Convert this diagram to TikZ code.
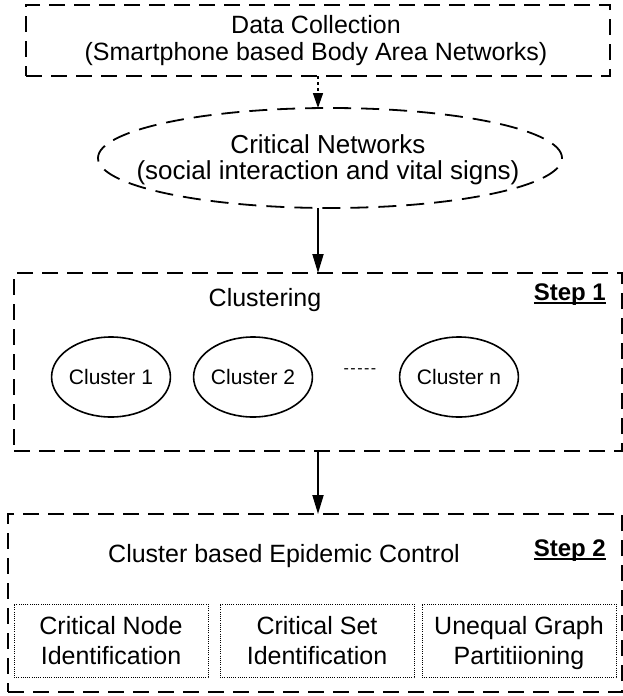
\documentclass[tikz,border=0pt]{standalone}
\usepackage{fontspec}
\setmainfont{Liberation Sans}
\usetikzlibrary{arrows.meta,shapes.geometric}
\newcommand\myul[1]{\setbox0\hbox{#1}\leavevmode\rlap{\rule[-3.6pt]{\wd0}{1.8pt}}\box0}
\begin{document}
\begin{tikzpicture}[x=1pt,y=-1pt,
  dbox/.style={draw, line width=1.8pt, dash pattern=on 16pt off 9pt, rectangle, inner sep=0pt, outer sep=0pt},
  dell/.style={draw, ellipse, line width=1.8pt, dash pattern=on 18pt off 10pt, inner sep=0pt, outer sep=0pt},
  dotbox/.style={draw, line width=0.9pt, dash pattern=on 1pt off 1.2pt, rectangle, inner sep=0pt, outer sep=0pt, minimum width=194pt, minimum height=73pt},
  txt/.style={font=\fontsize{25}{28}\selectfont, inner sep=0pt, anchor=base},
  etxt/.style={font=\fontsize{26}{30}\selectfont, inner sep=0pt, anchor=base},
  steplbl/.style={font=\fontsize{24}{28}\selectfont\bfseries, inner sep=0pt, anchor=base east},
  clu/.style={draw, ellipse, line width=1.6pt, minimum width=114pt, minimum height=80pt, inner sep=0pt, font=\fontsize{21}{25}\selectfont},
  arr/.style={line width=1.8pt, -{Triangle[length=19pt,width=11pt]}},
]
\useasboundingbox (0,0) rectangle (623,696);
% top box
\node[dbox, minimum width=584pt, minimum height=71pt] (data) at (318,40.5) {};
\node[txt] (dataA) at (316,33) {Data Collection};
\node[txt] (dataB) at (316,60) {(Smartphone based Body Area Networks)};
% ellipse
\node[dell, minimum width=464pt, minimum height=100pt] (crit) at (330,158) {};
\node[etxt] (critA) at (328,153) {Critical Networks};
\node[etxt] (critB) at (328,179) {(social interaction and vital signs)};
% step 1
\node[dbox, minimum width=608pt, minimum height=178pt] (step1) at (318,362) {};
\node[txt] (clus) at (265,306) {Clustering};
\node[steplbl] (s1) at (606,300.5) {\myul{Step 1}};
\node[clu] (c1) at (111,377) {Cluster 1};
\node[clu] (c2) at (253,377) {Cluster 2};
\node[clu] (cn) at (459,377) {Cluster n};
\node[font=\fontsize{16}{18}\selectfont, inner sep=0pt, anchor=base] (dots) at (360,373) {-\kern1.5pt-\kern1.5pt-\kern1.5pt-\kern1.5pt-};
% step 2
\node[dbox, minimum width=614pt, minimum height=178pt] (step2) at (315,603) {};
\node[txt] (cbe) at (284,562) {Cluster based Epidemic Control};
\node[steplbl] (s2) at (606,556.5) {\myul{Step 2}};
\node[dotbox] (b1) at (111,640.5) {};
\node[dotbox] (b2) at (317,640.5) {};
\node[dotbox] (b3) at (519,640.5) {};
\node[txt] (b1a) at (111,634) {Critical Node};
\node[txt] (b1b) at (111,664) {Identification};
\node[txt] (b2a) at (317,634) {Critical Set};
\node[txt] (b2b) at (317,664) {Identification};
\node[txt] (b3a) at (519,634) {Unequal Graph};
\node[txt] (b3b) at (519,664) {Partitiioning};
% arrows
\draw[line width=1.5pt, dash pattern=on 3pt off 3pt, -{Triangle[length=15pt,width=10pt]}] (data.south) -- (data.south |- crit.north);
\draw[arr] (data.south |- crit.south) -- (data.south |- step1.north);
\draw[arr] (step1.south) -- (step1.south |- step2.north);
\end{tikzpicture}
\end{document}
